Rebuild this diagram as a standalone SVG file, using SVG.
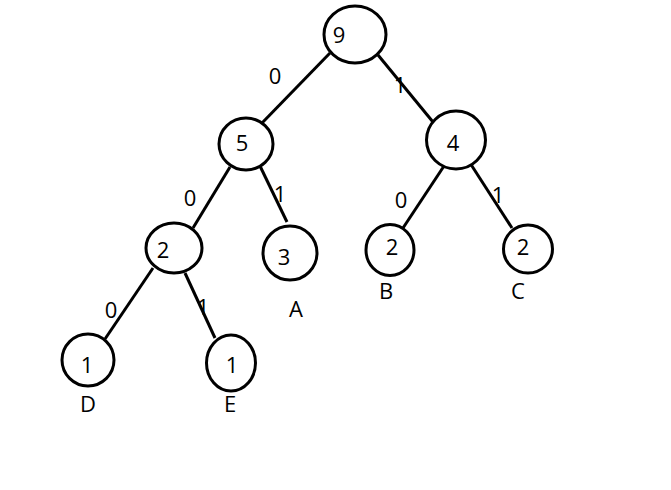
<svg xmlns="http://www.w3.org/2000/svg" width="671" height="490" viewBox="0 0 671 490">
<style>
.n{fill:#fff;stroke:#000;stroke-width:3}
.e{stroke:#000;stroke-width:3;fill:none}
text{font-family:"Open Sans","Noto Sans",sans-serif;font-size:22px;fill:#000}
.c{text-anchor:middle}
</style>
<rect width="671" height="490" fill="#fff"/>
<g id="edges">
<line class="e" x1="330" y1="53" x2="262" y2="123"/>
<line class="e" x1="378" y1="55" x2="433" y2="122"/>
<line class="e" x1="230" y1="167" x2="193" y2="228"/>
<line class="e" x1="260" y1="166" x2="287" y2="222"/>
<line class="e" x1="446" y1="163" x2="403" y2="228"/>
<line class="e" x1="470" y1="163" x2="512" y2="228"/>
<line class="e" x1="153" y1="268" x2="105" y2="339"/>
<line class="e" x1="185" y1="273" x2="215" y2="338"/>
<text class="c" x="275" y="84">0</text>
<text class="c" x="400" y="93">1</text>
<text class="c" x="190" y="206">0</text>
<text class="c" x="280" y="202">1</text>
<text class="c" x="401" y="208">0</text>
<text class="c" x="498" y="203">1</text>
<text class="c" x="111" y="318">0</text>
<text class="c" x="203" y="315">1</text>
</g>
<g id="n9"><ellipse class="n" cx="355" cy="34.5" rx="31" ry="28.5"/><text class="c" x="339" y="43">9</text></g>
<g id="n5"><ellipse class="n" cx="246" cy="144" rx="27" ry="26"/><text class="c" x="242" y="151">5</text></g>
<g id="n4"><ellipse class="n" cx="456" cy="140" rx="29.5" ry="29"/><text class="c" x="453" y="151">4</text></g>
<g id="n2"><ellipse class="n" cx="174" cy="248" rx="28" ry="25"/><text class="c" x="163" y="258">2</text></g>
<g id="nA"><ellipse class="n" cx="290" cy="253" rx="27" ry="27"/><text class="c" x="284" y="265">3</text><text class="c" x="296" y="317">A</text></g>
<g id="nB"><ellipse class="n" cx="390" cy="250" rx="24" ry="25.5"/><text class="c" x="392" y="255">2</text><text class="c" x="386" y="299">B</text></g>
<g id="nC"><ellipse class="n" cx="528" cy="249" rx="24.5" ry="24"/><text class="c" x="523" y="255">2</text><text class="c" x="518" y="299">C</text></g>
<g id="nD"><ellipse class="n" cx="88" cy="360" rx="26" ry="26"/><text class="c" x="87" y="373">1</text><text class="c" x="88" y="412">D</text></g>
<g id="nE"><ellipse class="n" cx="231" cy="363" rx="24.5" ry="28"/><text class="c" x="232" y="373">1</text><text class="c" x="230" y="412">E</text></g>
</svg>
